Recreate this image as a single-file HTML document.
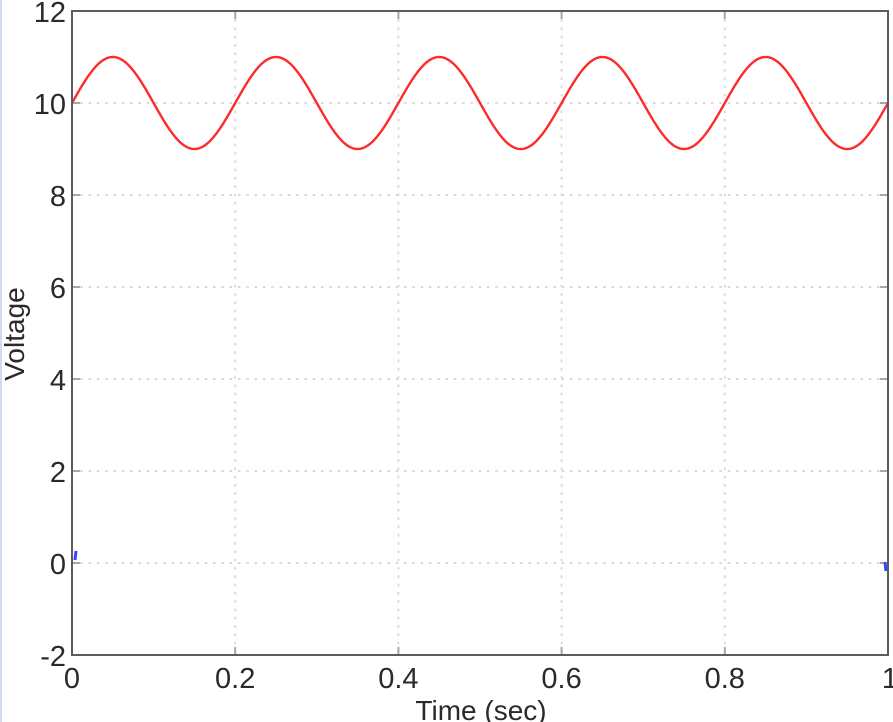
<!DOCTYPE html>
<html><head><meta charset="utf-8"><style>
html,body{margin:0;padding:0;background:#fff;}
svg{display:block;}
text{font-family:"Liberation Sans",Arial,sans-serif;fill:#2a2a2a;}
</style></head><body>
<svg width="893" height="722" viewBox="0 0 893 722" xmlns="http://www.w3.org/2000/svg">
<rect x="0" y="0" width="893" height="722" fill="#fff"/>
<rect x="0" y="0" width="2" height="722" fill="#d0dcec"/>
<g stroke="#d9d9d9" stroke-width="2" stroke-dasharray="2.5 5.8" fill="none">
<line x1="235.2" y1="11" x2="235.2" y2="655"/>
<line x1="398.4" y1="11" x2="398.4" y2="655"/>
<line x1="561.6" y1="11" x2="561.6" y2="655"/>
<line x1="724.8" y1="11" x2="724.8" y2="655"/>
<line x1="72" y1="103" x2="888" y2="103"/>
<line x1="72" y1="195" x2="888" y2="195"/>
<line x1="72" y1="287" x2="888" y2="287"/>
<line x1="72" y1="379" x2="888" y2="379"/>
<line x1="72" y1="471" x2="888" y2="471"/>
<line x1="72" y1="563" x2="888" y2="563"/>
</g>
<g stroke="#a8a8a8" stroke-width="2">
<line x1="235.2" y1="655" x2="235.2" y2="647"/><line x1="398.4" y1="655" x2="398.4" y2="647"/><line x1="561.6" y1="655" x2="561.6" y2="647"/><line x1="724.8" y1="655" x2="724.8" y2="647"/>
<line x1="235.2" y1="11" x2="235.2" y2="19"/><line x1="398.4" y1="11" x2="398.4" y2="19"/><line x1="561.6" y1="11" x2="561.6" y2="19"/><line x1="724.8" y1="11" x2="724.8" y2="19"/>
<line x1="72" y1="103" x2="80" y2="103"/><line x1="72" y1="195" x2="80" y2="195"/><line x1="72" y1="287" x2="80" y2="287"/><line x1="72" y1="379" x2="80" y2="379"/><line x1="72" y1="471" x2="80" y2="471"/><line x1="72" y1="563" x2="80" y2="563"/>
<line x1="888" y1="103" x2="880" y2="103"/><line x1="888" y1="195" x2="880" y2="195"/><line x1="888" y1="287" x2="880" y2="287"/><line x1="888" y1="379" x2="880" y2="379"/><line x1="888" y1="471" x2="880" y2="471"/><line x1="888" y1="563" x2="880" y2="563"/>
</g>
<path id="sig" fill="none" stroke="#ff2a2a" stroke-width="2.4" stroke-linejoin="round" d=""/>
<g stroke="#3344ff" stroke-width="3">
<line x1="75" y1="560" x2="76" y2="551"/>
<line x1="885" y1="562" x2="886" y2="571"/>
</g>
<rect x="72" y="11" width="816" height="644" fill="none" stroke="#5c5c5c" stroke-width="2"/>
<g font-size="29" text-anchor="end">
<text x="66" y="22">12</text>
<text x="66" y="114">10</text>
<text x="66" y="206">8</text>
<text x="66" y="298">6</text>
<text x="66" y="390">4</text>
<text x="66" y="482">2</text>
<text x="66" y="574">0</text>
<text x="66" y="666">-2</text>
</g>
<g font-size="29" text-anchor="middle">
<text x="72" y="688">0</text>
<text x="235.2" y="688">0.2</text>
<text x="398.4" y="688">0.4</text>
<text x="561.6" y="688">0.6</text>
<text x="724.8" y="688">0.8</text>
<text x="890" y="688">1</text>
</g>
<text x="481" y="720" font-size="28" text-anchor="middle">Time (sec)</text>
<text x="0" y="0" font-size="28" text-anchor="middle" transform="translate(24,334) rotate(-90)">Voltage</text>
</svg>
<script>
(function(){
var d="";
for(var i=0;i<=1000;i++){
var t=i/1000;
var v=10+Math.sin(10*Math.PI*t);
var x=72+816*t, y=563-46*v;
d+=(i?"L":"M")+x.toFixed(2)+" "+y.toFixed(2);
}
document.getElementById("sig").setAttribute("d",d);
})();
</script>
</body></html>
